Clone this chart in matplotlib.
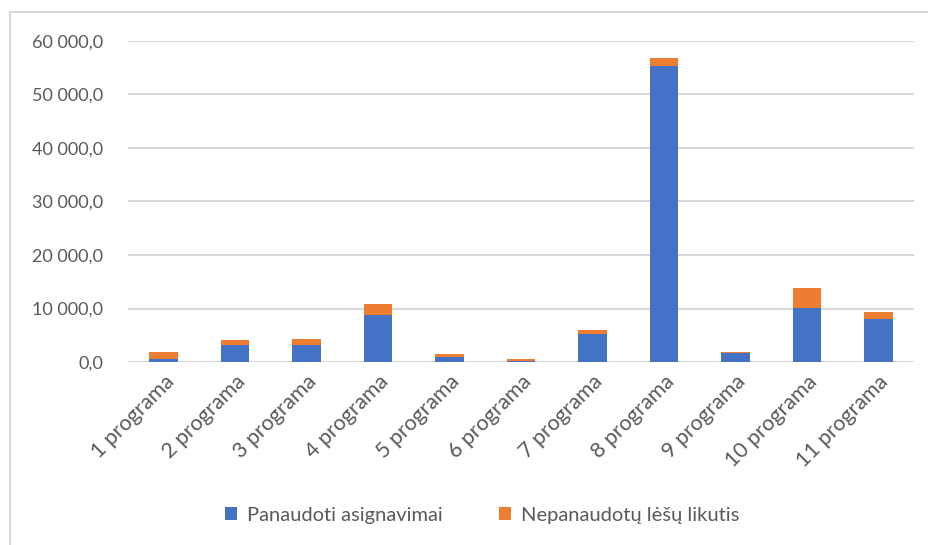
import matplotlib.pyplot as plt
from matplotlib.lines import Line2D
from matplotlib.ticker import FuncFormatter
import numpy as np

programos = ["1 programa", "2 programa", "3 programa", "4 programa", "5 programa",
             "6 programa", "7 programa", "8 programa", "9 programa", "10 programa",
             "11 programa"]
panaudoti = [500, 3200, 3200, 8800, 950, 280, 5250, 55400, 1700, 10100, 8050]
nepanaudoti = [1400, 900, 1100, 2000, 500, 300, 700, 1400, 250, 3800, 1350]

plt.rcParams["font.family"] = ["Lato", "DejaVu Sans"]

fig = plt.figure(figsize=(9.29, 5.45), dpi=100)
ax = fig.add_axes([128 / 929, 1 - 362 / 545, 786 / 929, 321 / 545])

x = np.arange(len(programos))
ax.bar(x, panaudoti, width=0.4, color="#4472C4", label="Panaudoti asignavimai", zorder=3)
ax.bar(x, nepanaudoti, width=0.4, bottom=panaudoti, color="#ED7D31",
       label="Nepanaudotų lėšų likutis", zorder=3)

ax.set_xlim(-0.5, len(programos) - 0.5)
ax.set_ylim(0, 60000)
ax.set_yticks(np.arange(0, 60001, 10000))


def fmt(v, pos):
    return f"{v:,.1f}".replace(",", " ").replace(".", ",")


ax.yaxis.set_major_formatter(FuncFormatter(fmt))
ax.grid(axis="y", color="#d9d9d9", linewidth=1.5, zorder=0)
for s in ax.spines.values():
    s.set_visible(False)
ax.tick_params(axis="y", length=0, colors="#595959", labelsize=13, pad=18)
ax.set_xticks(x)
ax.set_xticklabels(programos, rotation=45, ha="right", rotation_mode="anchor")
ax.tick_params(axis="x", length=0, colors="#595959", labelsize=15.5, pad=7)

fig.legend(loc="center", bbox_to_anchor=(482 / 929, 1 - 515 / 545), ncol=2,
           frameon=False, fontsize=14.5, handlelength=0.6, handleheight=0.6,
           handletextpad=0.5, columnspacing=2.8, labelcolor="#595959")

# rėmelis aplink diagramą
fig.add_artist(Line2D([10 / 929, 10 / 929], [0, 1 - 12 / 545], color="#d9d9d9", linewidth=1.5))
fig.add_artist(Line2D([10 / 929, 1], [1 - 12 / 545, 1 - 12 / 545], color="#d9d9d9", linewidth=1.5))

fig.savefig("out.png", dpi=100)
